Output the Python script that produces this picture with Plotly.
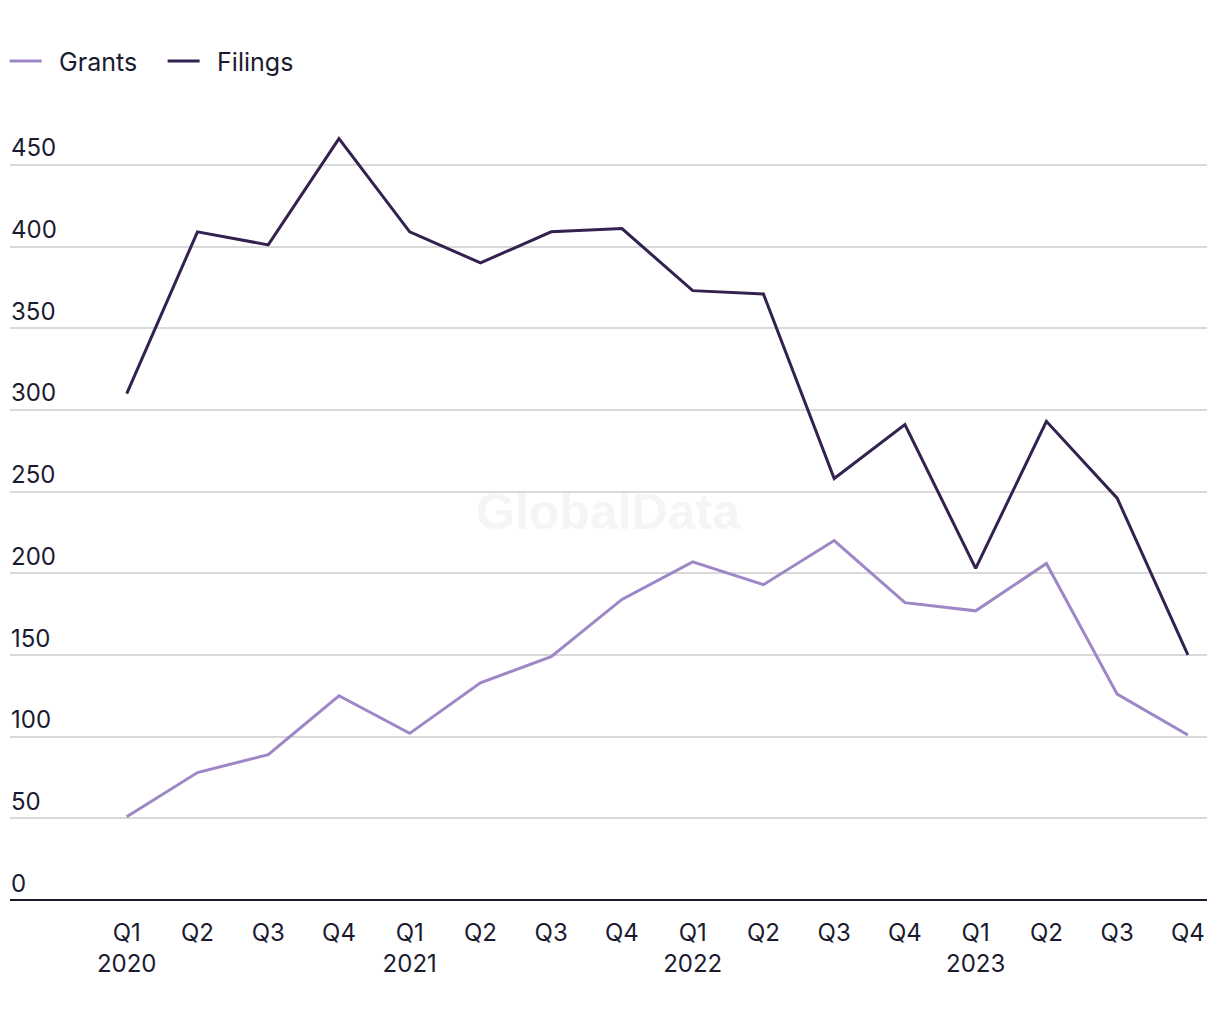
import plotly.graph_objects as go

categories = ["Q1 2020", "Q2 2020", "Q3 2020", "Q4 2020",
              "Q1 2021", "Q2 2021", "Q3 2021", "Q4 2021",
              "Q1 2022", "Q2 2022", "Q3 2022", "Q4 2022",
              "Q1 2023", "Q2 2023", "Q3 2023", "Q4 2023"]
tick_labels = ["Q1<br>2020", "Q2", "Q3", "Q4",
               "Q1<br>2021", "Q2", "Q3", "Q4",
               "Q1<br>2022", "Q2", "Q3", "Q4",
               "Q1<br>2023", "Q2", "Q3", "Q4"]
grants = [51, 78, 89, 125, 102, 133, 149, 184, 207, 193, 220, 182, 177, 206, 126, 101]
filings = [310, 409, 401, 466, 409, 390, 409, 411, 373, 371, 258, 291, 203, 293, 246, 150]
y_ticks = [0, 50, 100, 150, 200, 250, 300, 350, 400, 450]

FONT = "Inter"
TXT = "#1b1b2f"

fig = go.Figure()
fig.add_trace(go.Scatter(x=categories, y=grants, name="\u2002Grants", mode="lines",
                         line=dict(color="#9d87c6", width=3)))
fig.add_trace(go.Scatter(x=categories, y=filings, name="\u2002Filings", mode="lines",
                         line=dict(color="#33214f", width=3)))

fig.add_annotation(text="<b>GlobalData</b>", x=0.5, y=0.5, xref="paper", yref="paper",
                   showarrow=False, font=dict(family="Liberation Sans", size=50, color="#f5f5f5"))

fig.update_layout(
    width=1220, height=1020,
    margin=dict(l=2, r=21, t=116, b=128, autoexpand=False),
    paper_bgcolor="white", plot_bgcolor="white",
    font=dict(family=FONT, size=24, color=TXT),
    showlegend=True,
    legend=dict(orientation="h", x=-0.0045, xanchor="left", y=1.081, yanchor="middle",
                font=dict(size=25, color=TXT), itemwidth=32, traceorder="normal",
                entrywidth=111, entrywidthmode="pixels"),
    xaxis=dict(type="category", range=[-1.65, 15.27], tickvals=categories, ticktext=tick_labels,
               showgrid=False, zeroline=False, showline=False, ticks="",
               ticklabelstandoff=16, automargin=False,
               tickfont=dict(size=24, color=TXT)),
    yaxis=dict(range=[0, 475], tickvals=y_ticks, ticklabelposition="inside top",
               ticklabelstandoff=-2,
               showgrid=True, gridcolor="#d9d9d9", gridwidth=2,
               zeroline=True, zerolinecolor="#1b1b2f", zerolinewidth=2,
               showline=False, ticks="", automargin=False,
               tickfont=dict(size=24, color=TXT)),
)

fig.write_html("out.html")
